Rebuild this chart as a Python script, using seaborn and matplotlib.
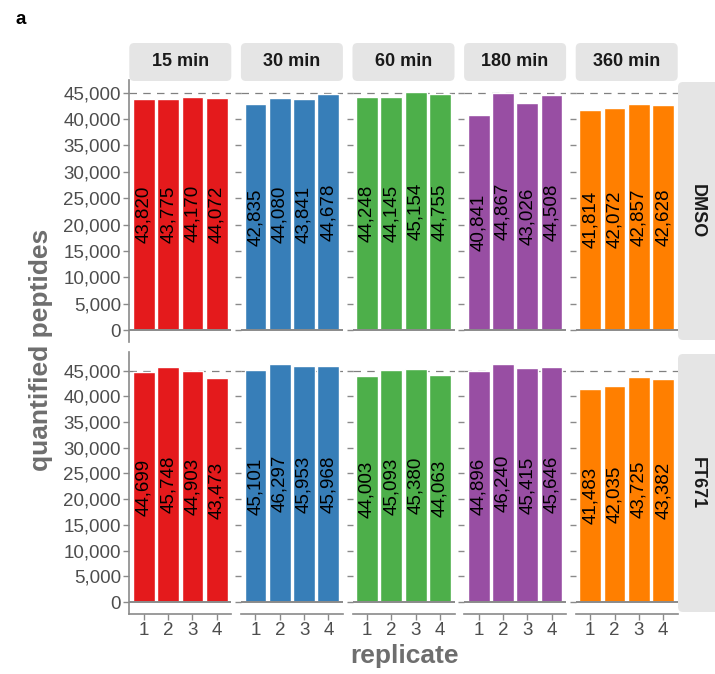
import matplotlib
matplotlib.use("Agg")
import matplotlib.pyplot as plt
from matplotlib.patches import FancyBboxPatch
from matplotlib.ticker import FuncFormatter
import seaborn as sns
import pandas as pd

sns.set_style("white")
plt.rcParams["font.family"] = ["Liberation Sans", "DejaVu Sans"]

# ---- data ---------------------------------------------------------------
timepoints = ["15 min", "30 min", "60 min", "180 min", "360 min"]
treatments = ["DMSO", "FT671"]
replicates = ["1", "2", "3", "4"]

dmso_15 = [43820, 43775, 44170, 44072]
dmso_30 = [42835, 44080, 43841, 44678]
dmso_60 = [44248, 44145, 45154, 44755]
dmso_180 = [40841, 44867, 43026, 44508]
dmso_360 = [41814, 42072, 42857, 42628]

ft671_15 = [44699, 45748, 44903, 43473]
ft671_30 = [45101, 46297, 45953, 45968]
ft671_60 = [44003, 45093, 45380, 44063]
ft671_180 = [44896, 46240, 45415, 45646]
ft671_360 = [41483, 42035, 43725, 43382]

reference_level = 45000
tick_values = list(range(0, 45001, 5000))
palette = ["#E41A1C", "#377EB8", "#4DAF4A", "#984EA3", "#FF7F00"]

counts = {
    "DMSO": [dmso_15, dmso_30, dmso_60, dmso_180, dmso_360],
    "FT671": [ft671_15, ft671_30, ft671_60, ft671_180, ft671_360],
}
rows = []
for trt in treatments:
    for tp, vals in zip(timepoints, counts[trt]):
        for rep, v in zip(replicates, vals):
            rows.append({"treatment": trt, "time": tp, "replicate": rep, "peptides": v})
df = pd.DataFrame(rows)

# ---- layout (pixels) ----------------------------------------------------
W, H = 715, 674
fig = plt.figure(figsize=(W / 100, H / 100), dpi=100)

panel_w = 102.0
col_left = [129.3 + i * 111.6 for i in range(5)]
row_top = [80.0, 352.0]
panel_h = 262.0

TICK_GREY = "#8A8A8A"
LABEL_GREY = "#4D4D4D"
TITLE_GREY = "#6E6E6E"
STRIP_BG = "#E5E5E5"


def fig_rect(x0, y0, w, h):
    return [x0 / W, 1 - (y0 + h) / H, w / W, h / H]


comma = FuncFormatter(lambda v, p: f"{int(v):,}")

for r, trt in enumerate(treatments):
    row_max = df.loc[df.treatment == trt, "peptides"].max()
    for c, tp in enumerate(timepoints):
        ax = fig.add_axes(fig_rect(col_left[c], row_top[r], panel_w, panel_h))
        sub = df[(df.treatment == trt) & (df.time == tp)]
        sns.barplot(data=sub, x="replicate", y="peptides", order=replicates,
                    color=palette[c], saturation=1, width=0.9,
                    errorbar=None, ax=ax, zorder=2)
        ax.axhline(reference_level, color="#808080", lw=0.9,
                   ls=(0, (6, 5)), zorder=1)
        ax.axhline(0, color=TICK_GREY, lw=1.4, zorder=3)
        ax.bar_label(ax.containers[0],
                     labels=[f"{v:,}" for v in sub["peptides"]],
                     label_type="center", rotation=90, fontsize=13.5,
                     color="black")

        ax.set_xlim(-0.6, 3.6)
        ax.set_ylim(-0.05 * row_max, 1.05 * row_max)
        ax.set_yticks(tick_values)
        ax.yaxis.set_major_formatter(comma)
        ax.set_xlabel("")
        ax.set_ylabel("")

        for s in ("top", "right"):
            ax.spines[s].set_visible(False)
        ax.spines["left"].set_visible(c == 0)
        ax.spines["left"].set_color(TICK_GREY)
        ax.spines["left"].set_linewidth(1.2)
        ax.spines["bottom"].set_visible(r == 1)
        ax.spines["bottom"].set_color(TICK_GREY)
        ax.spines["bottom"].set_linewidth(1.2)

        ax.tick_params(axis="y", left=True, length=4, width=1,
                       color=TICK_GREY, labelsize=13.5, labelcolor=LABEL_GREY,
                       pad=2, labelleft=(c == 0))
        ax.tick_params(axis="x", bottom=(r == 1), length=4, width=1,
                       color=TICK_GREY, labelsize=13.5, labelcolor=LABEL_GREY,
                       pad=2, labelbottom=(r == 1))

# ---- facet strips ---------------------------------------------------------
for c, tp in enumerate(timepoints):
    x0, y0, w, h = col_left[c], 43.0, panel_w, 38.0
    patch = FancyBboxPatch((x0 / W, 1 - (y0 + h) / H), w / W, h / H,
                           boxstyle="round,pad=0,rounding_size=0.007",
                           transform=fig.transFigure, facecolor=STRIP_BG,
                           edgecolor="none", mutation_aspect=W / H)
    fig.patches.append(patch)
    fig.text((x0 + w / 2) / W, 1 - (y0 + h / 2) / H, tp, ha="center",
             va="center", fontsize=13, fontweight="bold", color="#1A1A1A")

for r, trt in enumerate(treatments):
    x0, y0, w, h = 678.0, row_top[r] + 2, 60.0, panel_h - 4
    patch = FancyBboxPatch((x0 / W, 1 - (y0 + h) / H), w / W, h / H,
                           boxstyle="round,pad=0,rounding_size=0.007",
                           transform=fig.transFigure, facecolor=STRIP_BG,
                           edgecolor="none", mutation_aspect=W / H)
    fig.patches.append(patch)
    fig.text(697 / W, 1 - (y0 + h / 2) / H, trt, ha="center", va="center",
             rotation=-90, fontsize=13, fontweight="bold", color="#1A1A1A")

# ---- titles ---------------------------------------------------------------
fig.text(41 / W, 1 - 350 / H, "quantified peptides", rotation=90,
         ha="center", va="center", fontsize=19, fontweight="bold",
         color=TITLE_GREY)
fig.text(404 / W, 1 - 656 / H, "replicate", ha="center", va="center",
         fontsize=19, fontweight="bold", color=TITLE_GREY)
fig.text(16 / W, 1 - 19 / H, "a", ha="left", va="center", fontsize=13.5,
         fontweight="bold", color="black")

fig.savefig("out.png", dpi=100)
